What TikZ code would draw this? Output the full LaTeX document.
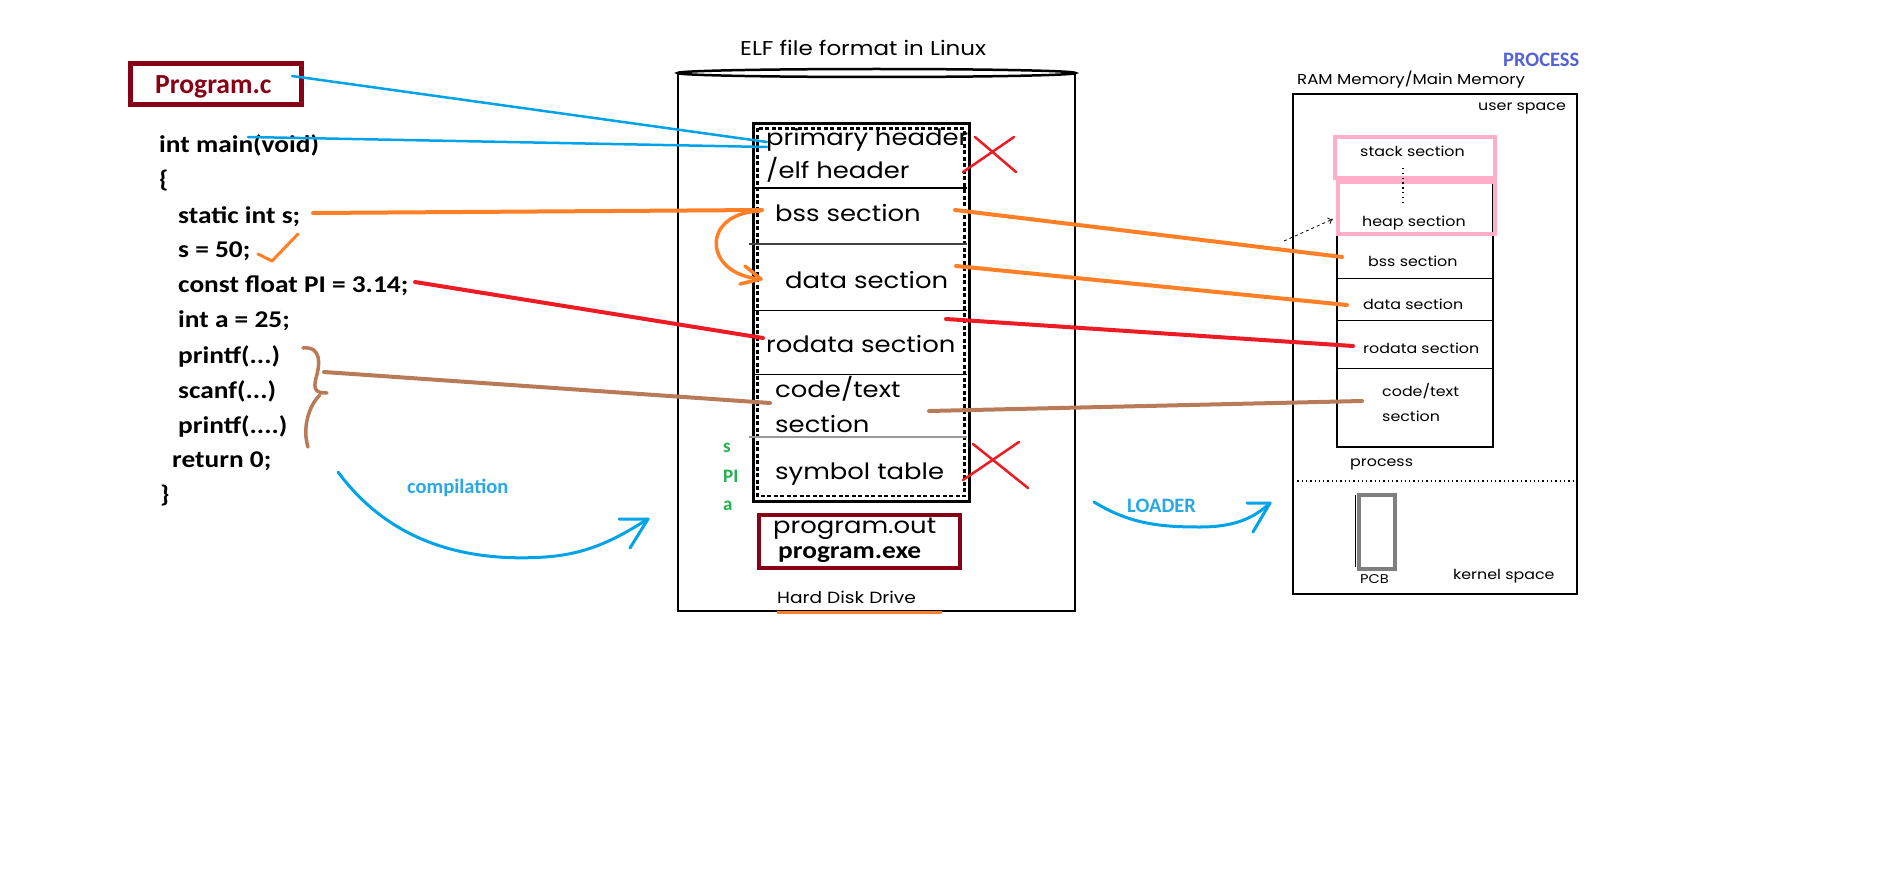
\documentclass[tikz,border=0pt]{standalone}
\usepackage{fontspec}
\setmainfont{Carlito}
\newfontfamily\codefont[FakeStretch=1.14]{Carlito}
\newfontfamily\geo[FakeStretch=1.15]{Poppins}
\usetikzlibrary{arrows.meta}

\definecolor{inkorange}{RGB}{255,127,39}
\definecolor{inkred}{RGB}{237,28,36}
\definecolor{inkbrown}{RGB}{185,122,87}
\definecolor{inkblue}{RGB}{0,162,232}
\definecolor{inkpink}{RGB}{255,174,201}
\definecolor{boxred}{RGB}{136,0,21}
\definecolor{inkgreen}{RGB}{34,177,76}
\definecolor{procblue}{RGB}{84,98,214}
\definecolor{labelblue}{RGB}{41,168,230}
\definecolor{pcbgray}{RGB}{127,127,127}

\tikzset{
  codeline/.style={font=\codefont\bfseries\fontsize{24}{24}\selectfont},
  elfbig/.style={font=\geo\fontsize{22.5}{22.5}\selectfont},
  elfsmall/.style={font=\geo\fontsize{16.2}{16.2}\selectfont},
  ramtext/.style={font=\geo\fontsize{13.8}{13.8}\selectfont},
  inklabel/.style={font=\bfseries\fontsize{20.5}{20.5}\selectfont},
  pen/.style={line cap=round, line join=round},
  bluepen/.style={pen, draw=inkblue, line width=2.5pt},
  orangepen/.style={pen, draw=inkorange, line width=4pt},
  redpen/.style={pen, draw=inkred, line width=4pt},
  brownpen/.style={pen, draw=inkbrown, line width=4pt},
  crosspen/.style={pen, draw=inkred, line width=2.5pt},
  pinkbox/.style={draw=inkpink, line width=4pt},
}

\begin{document}
\begin{tikzpicture}[x=1pt,y=-1pt,
  every node/.style={inner sep=0pt, anchor=base west}]
\useasboundingbox[fill=white] (0,0) rectangle (1894,888);

% ---------- source file ----------
\draw[draw=boxred, line width=5pt] (130.5,63.5) rectangle (301.5,104.5);
\node[font=\bfseries\fontsize{27.6}{27.6}\selectfont, text=boxred] (progc) at (155,94) {Program.c};

\node[codeline] (lmain)  at (159,152) {int main(void)};
\node[codeline] (lopen)  at (159,187) {\{};
\node[codeline] (lstat)  at (178,223) {static int s;};
\node[codeline] (lassign) at (178,257) {s = 50;};
\node[codeline] (lconst) at (178,292) {const float PI = 3.14;};
\node[codeline] (lint)   at (178,327) {int a = 25;};
\node[codeline] (lpr1)   at (178,363) {printf(...)};
\node[codeline] (lscan)  at (178,398) {scanf(...)};
\node[codeline] (lpr2)   at (178,433) {printf(....)};
\node[codeline] (lret)   at (172,467) {return 0;};
\node[codeline] (lclose) at (160,502) {\}};

% ---------- ELF file on disk ----------
\node[font=\geo\fontsize{20}{20}\selectfont] (elftitle) at (740,56) {ELF file format in Linux};
\draw[line width=1.5pt] (678,73) -- (678,611) -- (1075,611) -- (1075,73);
\draw[line width=2.5pt] (876.5,73) ellipse [x radius=199pt, y radius=4pt];

\draw[line width=3pt] (753,124) rectangle (969,501);
\draw[line width=2.2pt, dash pattern=on 4pt off 2.5pt] (757.5,128.5) rectangle (964.5,496);
\draw[line width=1.5pt] (755,188) -- (967,188);
\draw[line width=1.5pt, black!75] (749,244) -- (967,244);
\draw[line width=1pt] (755,310) -- (967,310);
\draw[line width=1pt] (755,374) -- (967,374);
\draw[line width=1.2pt, black!40] (749,437) -- (967,437);

\node[elfbig] (ehdr)  at (766,145) {primary header};
\node[elfbig] (ehdr2) at (766,178) {/elf header};
\node[elfbig] (ebss)  at (775,221) {bss section};
\node[elfbig] (edata) at (785,288) {data section};
\node[elfbig] (erod)  at (766,352) {rodata section};
\node[elfbig] (ecode) at (775,397) {code/text};
\node[elfbig] (ecode2) at (775,432) {section};
\node[elfbig] (esym)  at (775,479) {symbol table};

% removed at load time
\draw[crosspen] (975,137) -- (1016,172);
\draw[crosspen] (1014,137) -- (963,172);
\draw[crosspen] (973,444) -- (1028,488);
\draw[crosspen] (1019,442) -- (963,480);

% symbols kept in the table
\node[font=\bfseries\fontsize{19}{19}\selectfont, text=inkgreen] (syms) at (723,452) {s};
\node[font=\bfseries\fontsize{19}{19}\selectfont, text=inkgreen] (symPI) at (723,482) {PI};
\node[font=\bfseries\fontsize{19}{19}\selectfont, text=inkgreen] (syma) at (723,510) {a};

\draw[draw=boxred, line width=4pt] (759,515) rectangle (960,568);
\node[font=\geo\fontsize{22.5}{22.5}\selectfont] (pout) at (773,533) {program.out};
\node[codeline] (pexe) at (778,558) {program.exe};

\node[elfsmall] (hdd) at (777,603) {Hard Disk Drive};
\draw[draw=inkorange, line width=3pt] (777,612) -- (942,612);

% ---------- process in RAM ----------
\node[inklabel, text=procblue] (proc) at (1503,67) {PROCESS};
\node[font=\geo\fontsize{14.4}{14.4}\selectfont] (ramtitle) at (1297,85) {RAM Memory/Main Memory};
\draw[line width=2pt] (1293,94) rectangle (1577,594);
\node[ramtext] (uspace) at (1478,111) {user space};

\draw[line width=1.5pt] (1337,182) rectangle (1493,447);
\draw[line width=1pt] (1337,278) -- (1493,278);
\draw[line width=1pt] (1337,320) -- (1493,320);
\draw[line width=1pt] (1337,368) -- (1493,368);
\draw[pinkbox] (1335,137) rectangle (1495,178);
\draw[pinkbox] (1338,182) rectangle (1495,234);
\draw[line width=1.3pt, dash pattern=on 1.3pt off 3.5pt] (1403,168) -- (1403,204);

\node[ramtext] (rstack) at (1360,157) {stack section};
\node[ramtext] (rheap) at (1362,226) {heap section};
\node[ramtext] (rbss)  at (1368,266) {bss section};
\node[ramtext] (rdata) at (1363,309) {data section};
\node[ramtext] (rrod)  at (1363,353) {rodata section};
\node[ramtext] (rcode) at (1382,396) {code/text};
\node[ramtext] (rcode2) at (1382,421) {section};
\node[ramtext] (rproc) at (1350,466) {process};

\draw[line width=1.3pt, dash pattern=on 1.3pt off 3pt] (1293,481) -- (1577,481);
\node[ramtext] (kspace) at (1453,579) {kernel space};
\draw[draw=pcbgray, line width=4.5pt] (1359,495) rectangle (1395,569);
\draw[line width=1pt] (1355,495) -- (1355,567);
\node[font=\geo\fontsize{12.7}{12.7}\selectfont] (pcb) at (1360,583) {PCB};

\coordinate (heapfrom) at (1284,241);
\coordinate (heapto) at (1333,219);
\draw[dashed, line width=0.8pt, -{To[length=5pt,width=7pt]}] (heapfrom) -- (heapto);

% ---------- hand-drawn links ----------
\coordinate (cA) at (292,76);   \coordinate (hA) at (767,142);
\coordinate (cB) at (248,137);  \coordinate (hB) at (767,147);
\draw[bluepen] (cA) -- (hA);
\draw[bluepen] (cB) -- (hB);

\coordinate (sA) at (313,213);  \coordinate (bA) at (762,210);
\draw[orangepen] (sA) -- (bA);
\coordinate (tick1) at (258,254); \coordinate (tick2) at (272,261); \coordinate (tick3) at (298,234);
\draw[pen, draw=inkorange, line width=3pt] (tick1) -- (tick2) -- (tick3);

\coordinate (pA) at (415,282);  \coordinate (rA) at (763,338);
\draw[redpen] (pA) -- (rA);

\coordinate (brTop) at (303,348); \coordinate (brMid) at (327,393); \coordinate (brBot) at (308,447);
\draw[pen, draw=inkbrown, line width=3.5pt]
  (brTop) .. controls (322,346) and (320,365) .. (316,378)
  .. controls (313,390) and (316,393) .. (brMid);
\draw[pen, draw=inkbrown, line width=3.5pt]
  (320,395) .. controls (309,405) and (302,428) .. (brBot);
\coordinate (fA) at (324,372);  \coordinate (cT) at (770,403);
\draw[brownpen] (fA) -- (cT);

% bss values move to data once initialised
\coordinate (mvFrom) at (760,211); \coordinate (mvTo) at (761,279);
\draw[orangepen, line width=3.5pt] (mvFrom) .. controls (700,213) and (703,275) .. (mvTo);
\draw[orangepen, line width=3.5pt] (745,266) -- (mvTo) -- (740,284);

% ELF sections to process sections
\coordinate (e1) at (955,210); \coordinate (m1) at (1342,257);
\coordinate (e2) at (956,266); \coordinate (m2) at (1347,305);
\coordinate (e3) at (946,319); \coordinate (m3) at (1353,346);
\coordinate (e4) at (929,411); \coordinate (m4) at (1362,401);
\draw[orangepen] (e1) -- (m1);
\draw[orangepen] (e2) -- (m2);
\draw[redpen] (e3) -- (m3);
\draw[brownpen] (e4) -- (m4);

% compilation and loading
\coordinate (compFrom) at (338,472); \coordinate (compTo) at (648,519);
\draw[bluepen, line width=3pt] (compFrom) .. controls (392,545) and (470,562) .. (545,557)
  .. controls (592,554) and (622,535) .. (compTo);
\draw[bluepen, line width=3pt] (619,519) -- (compTo) -- (630,548);
\node[inklabel, text=labelblue] (comp) at (407,493) {compilation};

\coordinate (loadFrom) at (1094,502); \coordinate (loadTo) at (1270,503);
\draw[bluepen, line width=3pt] (loadFrom) .. controls (1130,524) and (1160,527) .. (1200,527)
  .. controls (1238,527) and (1256,516) .. (loadTo);
\draw[bluepen, line width=3pt] (1247,503) -- (loadTo) -- (1253,532);
\node[inklabel, text=labelblue] (loader) at (1127,512) {LOADER};
\end{tikzpicture}
\end{document}
